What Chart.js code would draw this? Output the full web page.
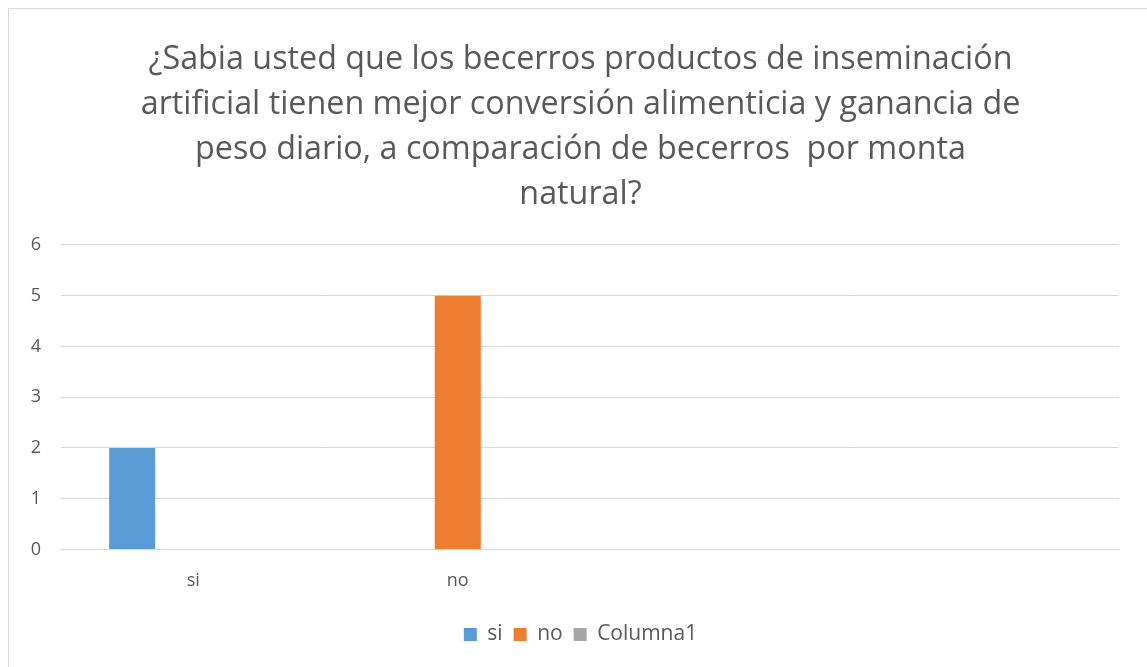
<!DOCTYPE html>
<html>
<head>
<meta charset="utf-8">
<script src="https://cdn.jsdelivr.net/npm/chart.js@4/dist/chart.umd.min.js"></script>
<style>
  html, body { margin: 0; padding: 0; background: #fff; }
  #wrap { position: relative; width: 1147px; height: 667px; }
  #frame { position: absolute; left: 8px; top: 8px; width: 1160px; height: 680px; border: 1px solid #d9d9d9; box-sizing: border-box; pointer-events: none; }
</style>
</head>
<body>
<div id="wrap">
  <canvas id="chart" width="1147" height="667"></canvas>
  <div id="frame"></div>
</div>
<script>
// chart data
const categories = ['si', 'no', '', ''];
const siValues = [2, null, null, null];
const noValues = [null, 5, null, null];
const columna1Values = [null, null, null, null];
const titleLines = [
  '¿Sabia usted que los becerros productos de inseminación',
  'artificial tienen mejor conversión alimenticia y ganancia de',
  'peso diario, a comparación de becerros  por monta',
  'natural?'
];

const FONT = "'Open Sans', 'Noto Sans', sans-serif";
const TEXT = '#595959';

Chart.defaults.font.family = FONT;
Chart.defaults.color = TEXT;

const ctx = document.getElementById('chart');
new Chart(ctx, {
  type: 'bar',
  data: {
    labels: categories,
    datasets: [
      { label: 'si', data: siValues, backgroundColor: '#5b9bd5' },
      { label: 'no', data: noValues, backgroundColor: '#ed7d31' },
      { label: 'Columna1', data: columna1Values, backgroundColor: '#a5a5a5' }
    ]
  },
  options: {
    responsive: false,
    animation: false,
    categoryPercentage: 0.693,
    barPercentage: 0.754,
    layout: { padding: { top: 37, right: 16, bottom: 12, left: 30 } },
    scales: {
      x: {
        grid: { display: false, drawTicks: false },
        border: { display: true, color: '#d9d9d9', width: 1 },
        ticks: { padding: 21, font: { size: 18 }, color: TEXT }
      },
      y: {
        min: 0,
        max: 6,
        ticks: { stepSize: 1, padding: 20, font: { size: 18 }, color: TEXT },
        grid: { color: '#d9d9d9', lineWidth: 1, drawTicks: false },
        border: { display: false },
        afterFit: function (scale) { scale.width = 31; }
      },
      // empty right-hand spacer so the title sits centred in the frame
      yRight: {
        position: 'right',
        min: 0,
        max: 6,
        ticks: { display: false },
        grid: { display: false, drawTicks: false },
        border: { display: false },
        afterFit: function (scale) { scale.width = 12; }
      }
    },
    plugins: {
      title: {
        display: true,
        text: titleLines,
        color: TEXT,
        font: { size: 32.3, weight: 'normal', lineHeight: 1.4 },
        padding: { top: 0, bottom: 27 }
      },
      legend: {
        position: 'bottom',
        labels: { boxWidth: 13, boxHeight: 13, font: { size: 21 }, color: TEXT, padding: 11 }
      },
      tooltip: { enabled: false }
    }
  }
});
</script>
</body>
</html>
